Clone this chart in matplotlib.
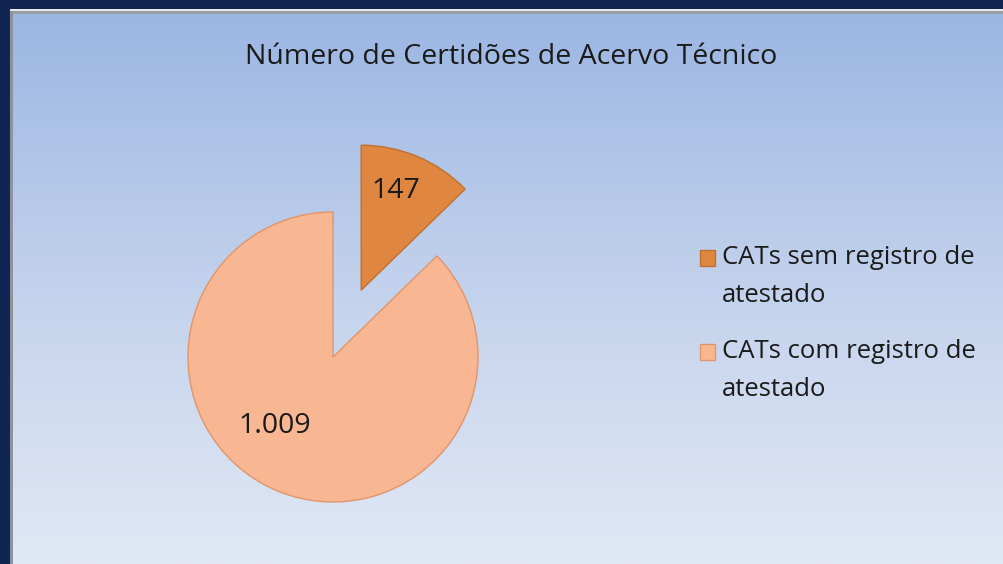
import numpy as np
import matplotlib.pyplot as plt
from matplotlib.patches import Rectangle
from matplotlib.colors import LinearSegmentedColormap

# --- Dados ---
titulo = 'Número de Certidões de Acervo Técnico'
categorias = ['CATs sem registro de\natestado', 'CATs com registro de\natestado']
valores = [147, 1009]
cores = ['#df8640', '#f9b693']
bordas = ['#c0702e', '#e0956a']

FONTE = 'Open Sans'

W, H = 1004, 564
fig = plt.figure(figsize=(W / 100, H / 100), dpi=100)
fig.patch.set_facecolor('#112553')

def fx(px):
    return px / W

def fy(py):
    return 1 - py / H

# --- Fundo com gradiente ---
bg = fig.add_axes([fx(10), 0, 1 - fx(10), fy(9)])
grad = np.linspace(0, 1, 256)[:, None]
cmap = LinearSegmentedColormap.from_list('fundo', ['#9bb6e3', '#c3d2ec', '#e1e8f5'])
bg.imshow(grad, aspect='auto', cmap=cmap, extent=[0, 1, 0, 1], origin='upper')
bg.set_xlim(0, 1)
bg.set_ylim(0, 1)
bg.axis('off')

# moldura clara/cinza
fig.add_artist(Rectangle((fx(10), fy(11)), 1, fy(9) - fy(11), transform=fig.transFigure,
                         facecolor='#e8e8e8', edgecolor='none'))
fig.add_artist(Rectangle((fx(10), fy(14)), 1, fy(11) - fy(14), transform=fig.transFigure,
                         facecolor='#9a9ea6', edgecolor='none'))
fig.add_artist(Rectangle((fx(10), 0), fx(3), fy(11), transform=fig.transFigure,
                         facecolor='#8d939c', edgecolor='none'))

# --- Pizza ---
cx, cy, r = 333, 357, 145
x0, x1, y0, y1 = 150, 560, 100, 540
ax = fig.add_axes([fx(x0), fy(y1), fx(x1 - x0), (y1 - y0) / H])
ax.set_facecolor('none')
wedges, _ = ax.pie(valores, colors=cores, startangle=90, counterclock=False,
                   explode=[0.5, 0], radius=1,
                   wedgeprops=dict(linewidth=1.0))
for w, e in zip(wedges, bordas):
    w.set_edgecolor(e)
ax.set_aspect('auto')
ax.set_xlim((x0 - cx) / r, (x1 - cx) / r)
ax.set_ylim((cy - y1) / r, (cy - y0) / r)
ax.axis('off')

def fmt(v):
    return f'{v:,}'.replace(',', '.')

pos_rot = [((396 - cx) / r, (cy - 191) / r), ((275 - cx) / r, (cy - 426) / r)]
for v, (px, py) in zip(valores, pos_rot):
    ax.text(px, py, fmt(v), ha='center', va='center', fontsize=20.5,
            family=FONTE, color='#1a1a1a')

# --- Título ---
fig.text(fx(511), fy(57), titulo, ha='center', va='center', fontsize=20.5,
         family=FONTE, color='#1a1a1a')

# --- Legenda (manual: quadrado alinhado à primeira linha) ---
leg_x, leg_y, passo_linha, passo_item = 700, 258, 38, 94
for i, (lab, cor, borda) in enumerate(zip(categorias, cores, bordas)):
    y = leg_y + i * passo_item
    fig.add_artist(Rectangle((fx(leg_x), fy(y + 8)), fx(15), 16 / H,
                             transform=fig.transFigure, facecolor=cor,
                             edgecolor=borda, linewidth=1.0))
    for j, linha in enumerate(lab.split('\n')):
        fig.text(fx(leg_x + 22), fy(y + j * passo_linha), linha, ha='left',
                 va='center', fontsize=18.5, family=FONTE, color='#1a1a1a')

fig.savefig('out.png', dpi=100, facecolor=fig.get_facecolor())
